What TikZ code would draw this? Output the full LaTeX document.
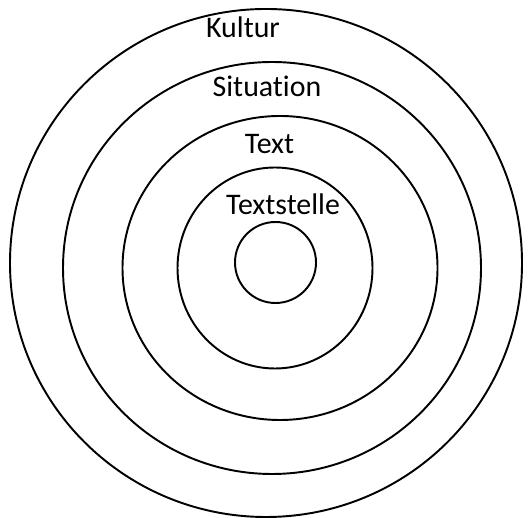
\documentclass[tikz,border=0pt]{standalone}
\usepackage{fontspec}
\setmainfont{Carlito}[Ligatures=NoCommon]
\usepackage{tikz}
\tikzset{
  ring/.style={draw=black, line width=1.1pt},
  ringlabel/.style={anchor=base, inner sep=0pt},
}

\begin{document}
\begin{tikzpicture}[font=\fontsize{17}{20}\selectfont]
  \useasboundingbox (0,0) rectangle (10.6,10.34);
  % rings, outside in
  \draw[ring] (5.32,5.08) ellipse [x radius=5.12, y radius=5.08];
  \draw[ring] (5.44,4.98) ellipse [x radius=4.18, y radius=4.12];
  \draw[ring] (5.60,4.98) ellipse [x radius=3.15, y radius=3.04];
  \draw[ring] (5.50,4.98) ellipse [x radius=1.95, y radius=2.01];
  \draw[ring] (5.51,5.09) circle [radius=0.81];
  % labels
  \node[ringlabel] (kultur) at (4.86,9.59) {Kultur};
  \node[ringlabel] (situation) at (5.34,8.41) {Situation};
  \node[ringlabel] (text) at (5.39,7.27) {Text};
  \node[ringlabel] (textstelle) at (5.66,6.04) {Textstelle};
\end{tikzpicture}
\end{document}
